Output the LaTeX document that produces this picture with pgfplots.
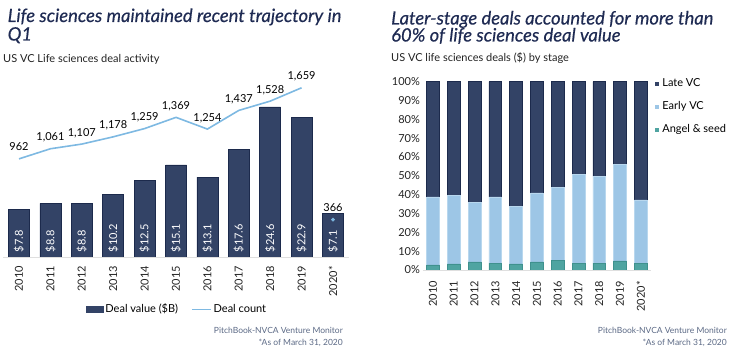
\documentclass[border=0pt]{standalone}
\usepackage{fontspec}
\setmainfont{Lato}
\newfontfamily\titlefont{Lato}[FakeBold=0.45]
\usepackage{graphicx}
\usepackage{pgfplots}
\usepackage{pgfplotstable}
\pgfplotsset{compat=1.18}
\definecolor{navy}{HTML}{334366}
\definecolor{navyedge}{HTML}{1C2A4C}
\definecolor{ltblue}{HTML}{9DC6E6}
\definecolor{ltblueedge}{HTML}{B8D7EE}
\definecolor{teal}{HTML}{4FA4A1}
\definecolor{tealedge}{HTML}{3F918E}
\definecolor{linec}{HTML}{7EB9E2}
\definecolor{titlec}{HTML}{1F2B53}
\definecolor{foot}{HTML}{5B6985}
\definecolor{txt}{HTML}{222222}

\pgfplotstableread{
x val
0 7.8
1 8.8
2 8.8
3 10.2
4 12.5
5 15.1
6 13.1
7 17.6
8 24.6
9 22.9
10 7.1
}\dealvalue
\pgfplotstableread{
x cnt
0 962
1 1061
2 1107
3 1178
4 1259
5 1369
6 1254
7 1437
8 1528
9 1659
}\dealcount
\pgfplotstableread{
x cnt
10 366
}\dealcountq
\pgfplotstableread{
x angel early late
0 2.7 36.1 61.2
1 3.2 36.4 60.4
2 4.3 31.5 64.2
3 3.7 35.1 61.2
4 3.2 30.6 66.2
5 4.3 36.6 59.1
6 5.3 38.4 56.3
7 3.7 47.1 49.2
8 3.7 46.2 50.1
9 4.8 51.3 43.9
10 3.7 33.5 62.8
}\stages

\newcommand{\lab}{\fontsize{11bp}{13bp}\selectfont}
\newcommand{\ttl}{\fontsize{18.4bp}{18bp}\selectfont\titlefont\itshape}
\begin{document}
\begin{tikzpicture}
\pgfplotsset{/pgf/number format/assume math mode=true}
\path[use as bounding box] (0,0) rectangle (738bp,350bp);

% ---------- Titles ----------
\node[anchor=base west, inner sep=0pt, color=titlec, font=\ttl] at (7.5bp,328bp)
  {Life sciences maintained recent trajectory in};
\node[anchor=base west, inner sep=0pt, color=titlec, font=\ttl] at (7.5bp,309.5bp)
  {Q1};
\node[anchor=base west, inner sep=0pt, color=txt, font=\lab] at (3bp,287.5bp)
  {US VC Life sciences deal activity};
\node[anchor=base west, inner sep=0pt, color=titlec, font=\ttl] at (391bp,325.5bp)
  {Later-stage deals accounted for more than};
\node[anchor=base west, inner sep=0pt, color=titlec, font=\ttl] at (391bp,308.5bp)
  {60\% of life sciences deal value};
\node[anchor=base west, inner sep=0pt, color=txt, font=\lab] at (391bp,288bp)
  {US VC life sciences deals (\$) by stage};

% ---------- Left chart: bars ----------
\begin{axis}[
  at={(3.3bp,93bp)}, anchor=south west,
  scale only axis, width=345.4bp, height=183bp,
  xmin=-0.5, xmax=10.5, ymin=0, ymax=30,
  axis lines*=left,
  y axis line style={draw=none},
  x axis line style={draw=gray!25, line width=0.8bp},
  ytick=\empty,
  xtick={0,...,10},
  xticklabels={2010,2011,2012,2013,2014,2015,2016,2017,2018,2019,2020*},
  tick style={draw=none},
  xticklabel style={font=\lab, color=txt, rotate=90, anchor=east, inner sep=0pt},
  xticklabel shift=9bp,
  legend style={at={(0.5,0)}, anchor=north, yshift=-47bp, draw=none, fill=none,
    legend columns=2, font=\lab, inner sep=0pt,
    nodes={inner sep=0pt, text height=8bp, text depth=2.5bp},
    /tikz/every odd column/.style={column sep=2bp},
    /tikz/every even column/.style={column sep=13bp}},
  legend cell align=left,
]
\addplot[ybar, bar width=21bp, fill=navy, draw=navyedge, line width=0.6bp,
  legend image code/.code={\fill[navy] (0bp,-3bp) rectangle (17bp,3bp);}]
  table[x=x,y=val]{\dealvalue};
\addlegendentry{Deal value (\$B)}
\addlegendimage{legend image code/.code={\draw[linec, line width=1.5bp] (0bp,0bp) -- (19bp,0bp);}}
\addlegendentry{Deal count}
\addplot[draw=none, mark=none, nodes near coords={\rotatebox{90}{\$\pgfmathprintnumber[fixed,fixed zerofill,precision=1]{\pgfplotspointmeta}}},
  point meta=explicit,
  every node near coord/.style={anchor=south, inner sep=0pt, yshift=4.5bp, font=\lab, color=white}]
  table[x=x, y expr=0, meta=val]{\dealvalue};
\end{axis}

% ---------- Left chart: line ----------
\begin{axis}[
  at={(3.3bp,93bp)}, anchor=south west,
  scale only axis, width=345.4bp, height=183bp,
  xmin=-0.5, xmax=10.5, ymin=0, ymax=1794,
  hide axis,
  /pgf/number format/1000 sep={,},
]
\addplot[linec, line width=1.6bp, mark=none, nodes near coords,
  every node near coord/.style={anchor=base, inner sep=0pt, yshift=8bp, font=\lab, color=black}]
  table[x=x,y=cnt]{\dealcount};
\addplot[only marks, mark=*, mark size=1.8bp, color=linec, nodes near coords,
  every node near coord/.style={anchor=base, inner sep=0pt, yshift=8bp, font=\lab, color=black}]
  table[x=x,y=cnt]{\dealcountq};
\end{axis}

% ---------- Right chart ----------
\begin{axis}[
  at={(422.6bp,80bp)}, anchor=south west,
  scale only axis, width=228.5bp, height=188.3bp,
  xmin=-0.5, xmax=10.5, ymin=0, ymax=100,
  ybar stacked, bar width=12.7bp,
  axis lines*=left,
  y axis line style={draw=none},
  x axis line style={draw=gray!25, line width=0.8bp},
  ytick={0,10,...,100},
  yticklabels={0\%,10\%,20\%,30\%,40\%,50\%,60\%,70\%,80\%,90\%,100\%},
  yticklabel style={font=\lab, color=txt, inner sep=0pt, anchor=east},
  yticklabel shift=2.5bp,
  xtick={0,...,10},
  xticklabels={2010,2011,2012,2013,2014,2015,2016,2017,2018,2019,2020*},
  tick style={draw=none},
  xticklabel style={font=\lab, color=txt, rotate=90, anchor=east, inner sep=0pt},
  xticklabel shift=11bp,
  legend style={at={(1,1)}, anchor=north west, xshift=3.5bp, yshift=3bp, draw=none, fill=none,
    font=\lab, inner sep=0pt, row sep=12.5bp,
    nodes={inner sep=0pt, text height=8bp, text depth=2.5bp},
    /tikz/every odd column/.style={column sep=3bp}},
  legend cell align=left,
  reverse legend,
  legend image code/.code={\fill[#1,draw=none] (0bp,-2.3bp) rectangle (4.6bp,2.3bp);},
]
\addplot[fill=teal, draw=tealedge, line width=0.5bp] table[x=x,y=angel]{\stages};
\addlegendentry{Angel \& seed}
\addplot[fill=ltblue, draw=ltblueedge, line width=0.5bp] table[x=x,y=early]{\stages};
\addlegendentry{Early VC}
\addplot[fill=navy, draw=navyedge, line width=0.5bp] table[x=x,y=late]{\stages};
\addlegendentry{Late VC}
\end{axis}

% ---------- Footers ----------
\node[anchor=base east, inner sep=0pt, color=foot, font=\fontsize{8.5bp}{10bp}\selectfont] at (343bp,17bp) {PitchBook-NVCA Venture Monitor};
\node[anchor=base east, inner sep=0pt, color=foot, font=\fontsize{8.5bp}{10bp}\selectfont] at (343bp,5bp) {*As of March 31, 2020};
\node[anchor=base east, inner sep=0pt, color=foot, font=\fontsize{8.5bp}{10bp}\selectfont] at (727bp,17bp) {PitchBook-NVCA Venture Monitor};
\node[anchor=base east, inner sep=0pt, color=foot, font=\fontsize{8.5bp}{10bp}\selectfont] at (727bp,5bp) {*As of March 31, 2020};
\end{tikzpicture}
\end{document}
